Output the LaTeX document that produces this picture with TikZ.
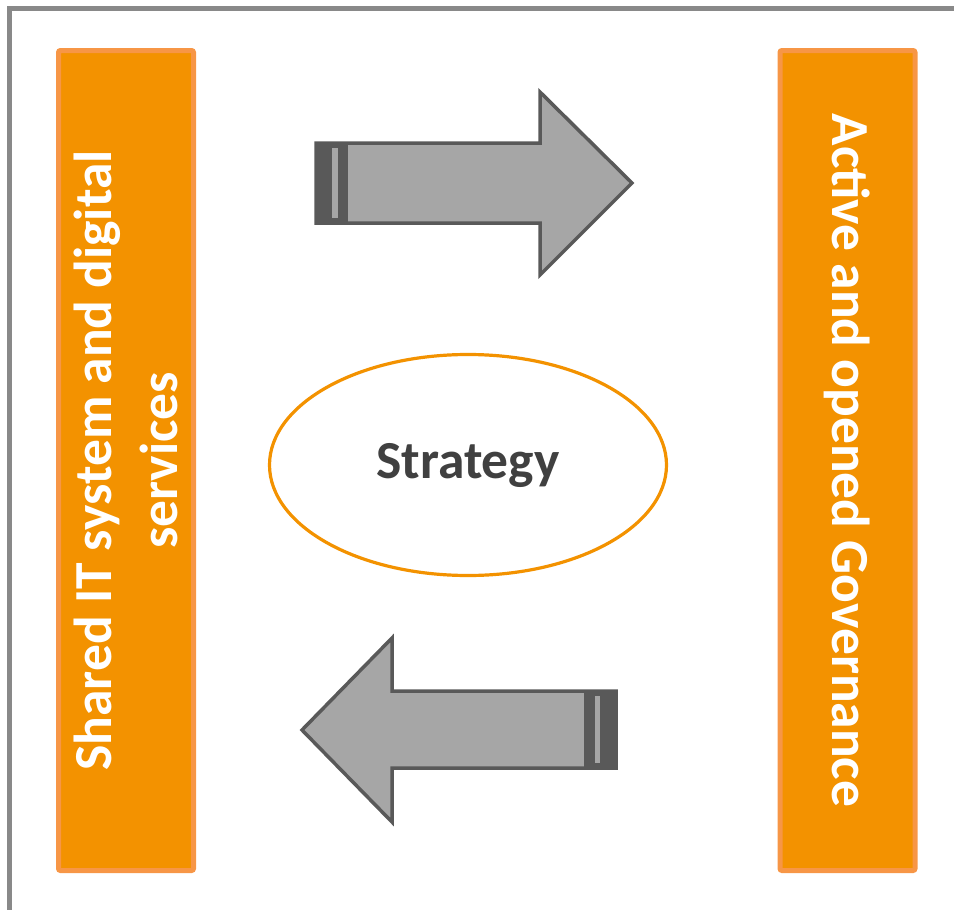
\documentclass[tikz,border=0pt]{standalone}
\usepackage{fontspec}
\setmainfont{Carlito}
\usetikzlibrary{shapes.geometric}
\definecolor{boxfill}{HTML}{F39200}
\definecolor{boxline}{HTML}{F79646}
\definecolor{arrowfill}{HTML}{A6A6A6}
\definecolor{arrowline}{HTML}{595959}
\definecolor{framegray}{HTML}{898989}
\definecolor{textgray}{HTML}{404040}
\tikzset{
  sidebox/.style={draw=boxline, fill=boxfill, line width=5pt, rounded corners=2pt,
    minimum width=820pt, minimum height=135pt, inner sep=0pt, align=center,
    text=white, font=\fontsize{53.5}{66}\selectfont\bfseries},
  blockarrow/.style={draw=arrowline, fill=arrowfill, line width=3.5pt, line join=miter},
  tailband/.style={fill=arrowline},
  tailstripe/.style={fill=arrowfill}
}
\begin{document}
\begin{tikzpicture}[x=1pt, y=-1pt]
                \useasboundingbox (0,0) rectangle (954,910);
                
                % Frame
                \draw[framegray, line width=5pt] (9.5,910) -- (9.5,8) -- (954,8);
                
                % Side boxes
                \node[sidebox, rotate=90] (shared) at (126,460.5)
                    {Shared IT system and digital\\services};
                \node[sidebox, rotate=-90] (governance) at (847.5,460.5)
                    {Active and opened Governance};
                
                % Centre
                \node[ellipse, draw=boxfill, line width=3.2pt, fill=white,
                    minimum width=397pt, minimum height=221pt,
                    text=textgray, font=\fontsize{53.5}{60}\selectfont\bfseries]
                    (strategy) at (468,465) {Strategy};
                
                % Upper arrow (to the right)
                \coordinate (up tail) at (316,183);
                \coordinate (up tip) at (632,183);
                \draw[blockarrow] (316,143) -- (540,143) -- (540,92) -- (up tip)
                    -- (540,275) -- (540,223) -- (316,223) -- cycle;
                \fill[tailband] (316,141.5) rectangle (348,224.5);
                \fill[tailstripe] (332,148) rectangle (338,218);
                
                % Lower arrow (to the left)
                \coordinate (low tail) at (616,730);
                \coordinate (low tip) at (302,730);
                \draw[blockarrow] (616,691) -- (392,691) -- (392,638) -- (low tip)
                    -- (392,822) -- (392,768) -- (616,768) -- cycle;
                \fill[tailband] (584,689.5) rectangle (616,769.5);
                \fill[tailstripe] (595,696) rectangle (600,763);
            \end{tikzpicture}
\end{document}
